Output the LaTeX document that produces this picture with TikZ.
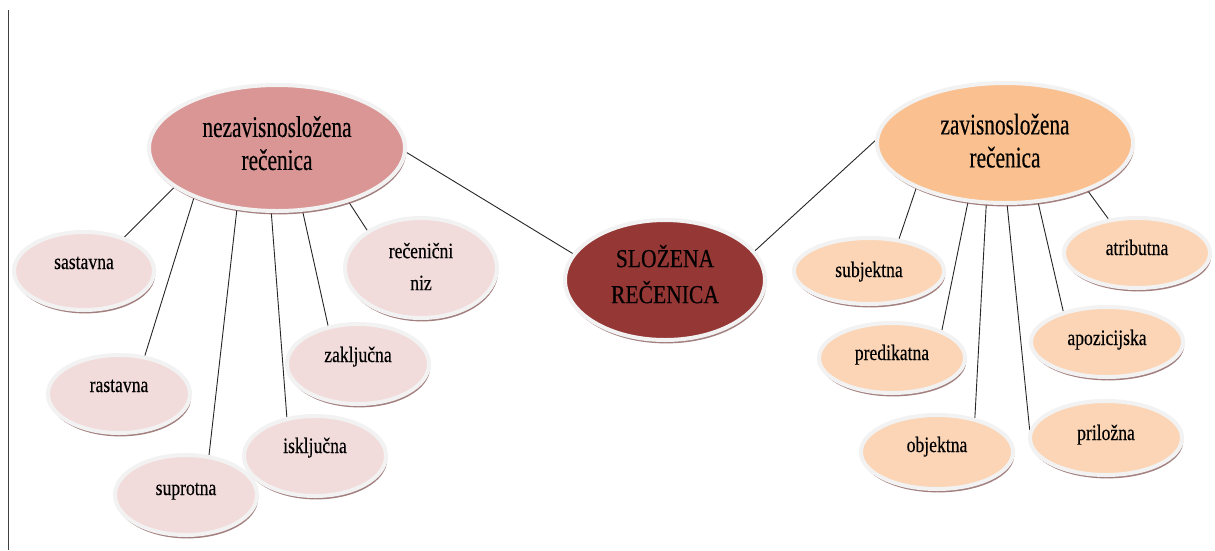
\documentclass[tikz,border=0pt]{standalone}
\usepackage{fontspec}
\setmainfont{Liberation Serif}
\newfontfamily\bigf[FakeStretch=0.71,FakeBold=0.3]{Liberation Serif}
\newfontfamily\smallf[FakeStretch=0.8,FakeBold=0.3]{Liberation Serif}
\newfontfamily\cenf[FakeStretch=0.83,FakeBold=0.3]{Liberation Serif}
\usetikzlibrary{shapes.geometric,shadows}
\definecolor{bigL}{HTML}{D99694}
\definecolor{smallL}{HTML}{F2DCDB}
\definecolor{center}{HTML}{953735}
\definecolor{bigR}{HTML}{FAC08F}
\definecolor{smallR}{HTML}{FBD5B5}
\definecolor{ring}{HTML}{F2F2F2}
\definecolor{shade}{RGB}{140,95,95}
\pgfdeclarelayer{bg}
\pgfsetlayers{bg,main}
\begin{document}
\begin{tikzpicture}[x=1pt,y=-1pt,
  bub/.style={ellipse, draw=ring, line width=4pt, inner sep=0pt, align=center,
    drop shadow={shadow xshift=1.2pt, shadow yshift=-3.4pt, fill=shade, opacity=0.8}},
  bigfont/.style={font=\bigf\fontsize{30}{33}\selectfont},
  cenfont/.style={font=\cenf\fontsize{26}{36}\selectfont},
  smallfont/.style={font=\smallf\fontsize{22}{32}\selectfont},
  one/.style={smallfont, text height=6pt, text depth=6pt},
  conn/.style={draw=black!85, line width=0.9pt}]
\useasboundingbox (0,0) rectangle (1215,550);

% left side
\node[bub, bigfont, fill=bigL, minimum width=256pt, minimum height=126pt] (L) at (277,148) {nezavisnosložena\\rečenica\rule[-10pt]{0pt}{0pt}};
\node[bub, one, fill=smallL, minimum width=140pt, minimum height=78pt, text height=4pt, text depth=8pt] (sas) at (84,271) {sastavna};
\node[bub, one, fill=smallL, minimum width=142pt, minimum height=78pt, text height=4pt, text depth=8pt] (ras) at (119,394) {rastavna};
\node[bub, one, fill=smallL, minimum width=142pt, minimum height=80pt] (sup) at (186,495) {suprotna};
\node[bub, one, fill=smallL, minimum width=142pt, minimum height=80pt, text height=3pt, text depth=9pt] (isk) at (315,456) {isključna};
\node[bub, one, fill=smallL, minimum width=142pt, minimum height=80pt, text height=4pt, text depth=8pt] (zak) at (358,364) {zaključna};
\node[bub, smallfont, fill=smallL, minimum width=152pt, minimum height=100pt] (niz) at (421,268) {rečenični\\niz\rule[-3pt]{0pt}{0pt}};

% center
\node[bub, cenfont, fill=center, minimum width=200pt, minimum height=120pt] (C) at (665,280) {SLOŽENA\\REČENICA\rule[-12pt]{0pt}{0pt}};

% right side
\node[bub, bigfont, fill=bigR, minimum width=256pt, minimum height=120pt] (R) at (1005,143) {zavisnosložena\\rečenica\rule[-5pt]{0pt}{0pt}};
\node[bub, one, fill=smallR, minimum width=150pt, minimum height=66pt, text height=12pt, text depth=0pt] (sub) at (869,271) {subjektna};
\node[bub, one, fill=smallR, minimum width=146pt, minimum height=70pt, text height=8pt, text depth=4pt] (atr) at (1137,253) {atributna};
\node[bub, one, fill=smallR, minimum width=146pt, minimum height=70pt, text height=8pt, text depth=4pt] (pre) at (892,358) {predikatna};
\node[bub, one, fill=smallR, minimum width=152pt, minimum height=70pt, text height=9pt, text depth=3pt] (apo) at (1107,342) {apozicijska};
\node[bub, one, fill=smallR, minimum width=152pt, minimum height=74pt] (obj) at (937,452) {objektna};
\node[bub, one, fill=smallR, minimum width=152pt, minimum height=74pt, text height=8pt, text depth=4pt] (pri) at (1106,438) {priložna};

\begin{pgfonlayer}{bg}
\fill[white] (0,0) rectangle (1215,550);
\draw[black!75, line width=1pt] (8,10) -- (8,550);
\draw[conn] (L.201) -- (sas.40);
\draw[conn] (L.211.5) -- (ras.56);
\draw[conn] (L.237) -- (sup.60);
\draw[conn] (L.265) -- (isk.126);
\draw[conn] (L.292) -- (zak.128);
\draw[conn] (L.323) -- (niz.145);
\draw[conn] (L.358) -- (C.164);
\draw[conn] (C.18) -- (R.179);
\draw[conn] (R.207) -- (sub.47);
\draw[conn] (R.238) -- (pre.29);
\draw[conn] (R.253) -- (obj.42);
\draw[conn] (R.272) -- (pri.174);
\draw[conn] (R.299) -- (apo.145);
\draw[conn] (R.330) -- (atr.130);
\end{pgfonlayer}
\end{tikzpicture}
\end{document}
